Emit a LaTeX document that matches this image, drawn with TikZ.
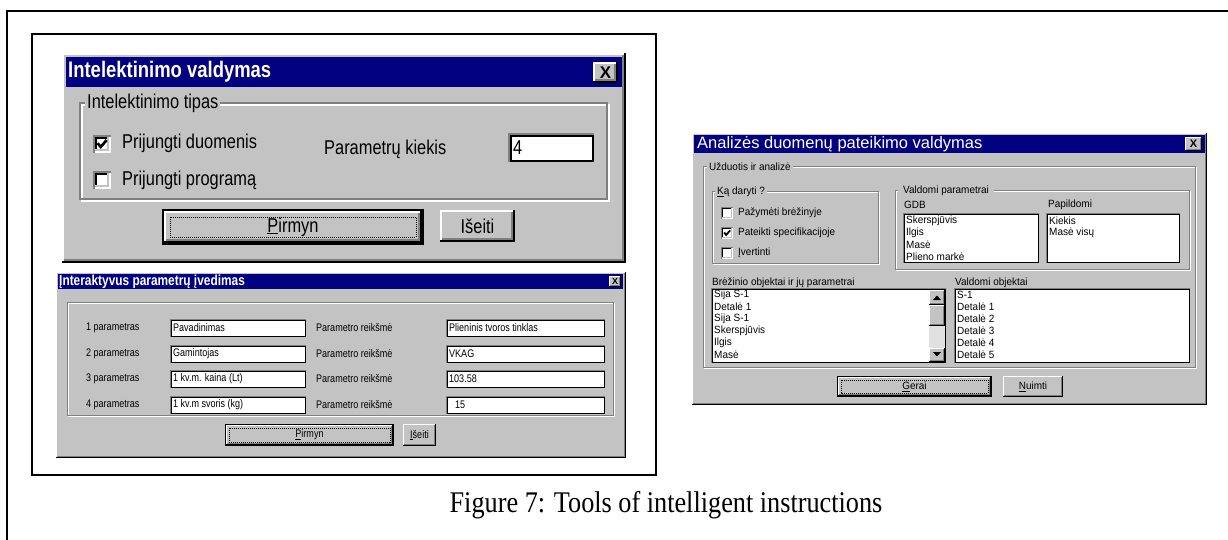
\documentclass[tikz,border=0pt]{standalone}
\usepackage{fontspec}
\setmainfont{Liberation Serif}
\newfontfamily\uiA{Liberation Sans}[FakeStretch=0.82]
\newfontfamily\uiB{Liberation Sans}[FakeStretch=0.95]
\newfontfamily\uiT{Liberation Sans}
\newfontfamily\capfont{Liberation Serif}[FakeStretch=0.875]

\definecolor{winface}{RGB}{195,195,195}
\definecolor{winshade}{RGB}{128,128,128}
\definecolor{wintitle}{RGB}{0,0,128}
\definecolor{wintrack}{RGB}{225,225,225}

\tikzset{
  txt/.style={inner sep=0pt, anchor=west},
  d1txt/.style={txt, font=\uiA\fontsize{20}{24}\selectfont},
  d2txt/.style={txt, font=\uiA\fontsize{11}{13}\selectfont},
  d3txt/.style={txt, font=\uiB\fontsize{10.5}{12}\selectfont},
  grplbl/.style={fill=winface, inner xsep=2pt, inner ysep=0pt, anchor=west},
  titletxt/.style={txt, text=white},
  closex/.style={inner sep=0pt, font=\uiT\bfseries},
}

% raised 3D panel (dialogs, buttons)
\newcommand\wraised[4]{%
  \fill[winface] (#1,#2) rectangle (#3,#4);
  \draw[white,line width=\wlw pt] (#1+\wlw/2,#4-\wlw) -- (#1+\wlw/2,#2+\wlw/2) -- (#3-\wlw,#2+\wlw/2);
  \draw[black,line width=\wlw pt] (#1,#4-\wlw/2) -- (#3-\wlw/2,#4-\wlw/2) -- (#3-\wlw/2,#2);
  \draw[winshade,line width=\wlw pt] (#1+\wlw,#4-1.5*\wlw) -- (#3-1.5*\wlw,#4-1.5*\wlw) -- (#3-1.5*\wlw,#2+\wlw);
}
% default push button with focus rectangle
\newcommand\wdefbtn[4]{%
  \fill[black] (#1,#2) rectangle (#3,#4);
  \wraised{#1+\wlw}{#2+\wlw}{#3-\wlw}{#4-\wlw}
  \draw[black,line width=0.8pt,dash pattern=on 1pt off 1pt] (#1+4*\wlw,#2+4*\wlw) rectangle (#3-4*\wlw,#4-4*\wlw);
}
% white edit field / list box
\newcommand\wfield[4]{%
  \fill[white] (#1,#2) rectangle (#3,#4);
  \draw[winshade,line width=\wlw pt] (#1+\wlw/2,#4) -- (#1+\wlw/2,#2+\wlw/2) -- (#3,#2+\wlw/2);
  \draw[black,line width=\wlw pt] (#1+1.5*\wlw,#2+1.5*\wlw) rectangle (#3-\wlw/2,#4-\wlw/2);
}
% etched group frame
\newcommand\wgroup[4]{%
  \draw[white,line width=\wlw pt] (#1+\wlw,#2+\wlw) rectangle (#3+\wlw,#4+\wlw);
  \draw[winshade,line width=\wlw pt] (#1,#2) rectangle (#3,#4);
}
% check box
\newcommand\wcheck[3]{%
  \fill[white] (#1,#2) rectangle (#1+#3,#2+#3);
  \draw[winshade,line width=\wlw pt] (#1+\wlw/2,#2+#3) -- (#1+\wlw/2,#2+\wlw/2) -- (#1+#3,#2+\wlw/2);
  \draw[black,line width=\wlw pt] (#1+1.5*\wlw,#2+#3-\wlw) -- (#1+1.5*\wlw,#2+1.5*\wlw) -- (#1+#3-\wlw,#2+1.5*\wlw);
  \draw[winface,line width=\wlw pt] (#1+\wlw,#2+#3-1.5*\wlw) -- (#1+#3-1.5*\wlw,#2+#3-1.5*\wlw) -- (#1+#3-1.5*\wlw,#2+\wlw);
}
\newcommand\wtick[3]{%
  \draw[black,line width={0.15*#3},line join=miter] (#1+0.26*#3,#2+0.46*#3) -- (#1+0.43*#3,#2+0.66*#3) -- (#1+0.76*#3,#2+0.28*#3);
}

\begin{document}
\begin{tikzpicture}[x=1pt,y=-1pt]
\useasboundingbox (0,0) rectangle (1228,540);
\fill[white] (0,0) rectangle (1228,540);

% page frame and frame of the left screenshots
\draw[line width=2pt] (7,540) -- (7,11) -- (1228,11);
\draw[line width=2pt] (32,34) rectangle (656,475);

% ---------- dialog: Intelektinimo valdymas ----------
\def\wlw{2}
\wraised{62}{53}{626}{263}
\fill[wintitle] (66,57) rectangle (622,87);
\node[titletxt, font=\uiA\bfseries\fontsize{22.5}{26}\selectfont] (d1title) at (68,72) {Intelektinimo valdymas};
\wraised{593}{62}{618}{83}
\node[closex, font=\uiT\bfseries\fontsize{17}{20}\selectfont] (d1close) at (605.5,72.5) {X};
\wgroup{80}{103}{607}{199}
\node[grplbl, font=\uiA\fontsize{20}{24}\selectfont] (d1grp) at (85,103) {Intelektinimo tipas};
\wcheck{93}{135}{18}
\wtick{93}{135}{18}
\node[d1txt] (d1c1) at (122,143) {Prijungti duomenis};
\wcheck{93}{171}{18}
\node[d1txt] (d1c2) at (122,180) {Prijungti programą};
\node[d1txt] (d1par) at (324,149) {Parametrų kiekis};
\wfield{508}{133}{594}{162}
\node[d1txt] (d1val) at (513,148) {4};
\wdefbtn{162}{209}{424}{245}
\node[d1txt, anchor=center] (d1ok) at (293,227) {\underline{P}irmyn};
\wraised{440}{210}{515}{242}
\node[d1txt, anchor=center] (d1exit) at (477.5,226) {Išeiti};

% ---------- dialog: Interaktyvus parametrų įvedimas ----------
\def\wlw{1}
\wraised{56}{272}{626}{458}
\fill[wintitle] (58,274) rectangle (623,289);
\node[titletxt, font=\uiA\bfseries\fontsize{14.5}{16}\selectfont] (d2title) at (59,281.5) {Įnteraktyvus parametrų įvedimas};
\wraised{609}{276}{621}{287}
\node[closex, font=\uiT\bfseries\fontsize{9}{10}\selectfont] (d2close) at (615,281.5) {X};
\wgroup{67}{302}{613}{415}

\node[d2txt] (d2l1) at (86,328) {1 parametras};
\wfield{170}{319}{306}{337}
\node[d2txt] (d2a1) at (173,328) {Pavadinimas};
\node[d2txt] (d2r1) at (316,328) {Parametro reikšmė};
\wfield{446}{319}{605}{337}
\node[d2txt] (d2b1) at (449,328) {Plieninis tvoros tinklas};

\node[d2txt] (d2l2) at (86,354) {2 parametras};
\wfield{170}{345}{306}{363}
\node[d2txt] (d2a2) at (173,354) {Gamintojas};
\node[d2txt] (d2r2) at (316,354) {Parametro reikšmė};
\wfield{446}{345}{605}{363}
\node[d2txt] (d2b2) at (449,354) {VKAG};

\node[d2txt] (d2l3) at (86,379) {3 parametras};
\wfield{170}{370}{306}{388}
\node[d2txt] (d2a3) at (173,379) {1 kv.m. kaina (Lt)};
\node[d2txt] (d2r3) at (316,379) {Parametro reikšmė};
\wfield{446}{370}{605}{388}
\node[d2txt] (d2b3) at (449,379) {103.58};

\node[d2txt] (d2l4) at (86,405) {4 parametras};
\wfield{170}{396}{306}{414}
\node[d2txt] (d2a4) at (173,405) {1 kv.m svoris (kg)};
\node[d2txt] (d2r4) at (316,405) {Parametro reikšmė};
\wfield{446}{396}{605}{414}
\node[d2txt] (d2b4) at (455,405) {15};

\wdefbtn{225}{424}{394}{446}
\node[d2txt, anchor=center] (d2ok) at (309.5,435) {\underline{P}irmyn};
\wraised{403}{424}{436}{446}
\node[d2txt, anchor=center] (d2exit) at (419.5,435) {\underline{I}šeiti};

% ---------- dialog: Analizės duomenų pateikimo valdymas ----------
\wraised{692}{133}{1207}{405}
\fill[wintitle] (694,135) rectangle (1205,153);
\node[titletxt, font=\uiT\fontsize{16.5}{18}\selectfont] (d3title) at (697,144) {Analizės duomenų pateikimo valdymas};
\wraised{1185}{137}{1202}{151}
\node[closex, font=\uiT\bfseries\fontsize{11}{12}\selectfont] (d3close) at (1193.5,144) {X};

\wgroup{703}{167}{1195}{367}
\node[grplbl, font=\uiB\fontsize{10.5}{12}\selectfont] (d3grp) at (707,167) {Užduotis ir analizė};

\wgroup{712}{192}{878}{263}
\node[grplbl, font=\uiB\fontsize{10.5}{12}\selectfont] (d3what) at (715,192) {\underline{K}ą daryti ?};
\wcheck{721}{207}{12}
\node[d3txt] (d3c1) at (738,213) {Pažymėti brėžinyje};
\wcheck{721}{227}{12}
\wtick{721}{227}{12}
\node[d3txt] (d3c2) at (738,233) {Pateikti specifikacijoje};
\wcheck{721}{247}{12}
\node[d3txt] (d3c3) at (738,253) {Įvertinti};

\wgroup{895}{191}{1189}{269}
\node[grplbl, inner xsep=5pt, font=\uiB\fontsize{10.5}{12}\selectfont] (d3par) at (898,191) {Valdomi parametrai};
\node[d3txt] (d3gdb) at (904,205) {GDB};
\wfield{903}{213}{1039}{263}
\node[d3txt] (d3g1) at (906,221) {Skerspjūvis};
\node[d3txt] (d3g2) at (906,233) {Ilgis};
\node[d3txt] (d3g3) at (906,245) {Masė};
\node[d3txt] (d3g4) at (906,257) {Plieno markė};
\node[d3txt] (d3pap) at (1048,205) {Papildomi};
\wfield{1046}{213}{1180}{263}
\node[d3txt] (d3p1) at (1049,221) {Kiekis};
\node[d3txt] (d3p2) at (1049,233) {Masė visų};

\node[d3txt] (d3obj) at (712,283) {Brėžinio objektai ir jų parametrai};
\wfield{711}{288}{946}{363}
\node[d3txt] (d3o1) at (714,295) {Sija S-1};
\node[d3txt] (d3o2) at (714,307) {Detalė 1};
\node[d3txt] (d3o3) at (714,319) {Sija S-1};
\node[d3txt] (d3o4) at (714,331) {Skerspjūvis};
\node[d3txt] (d3o5) at (714,343) {Ilgis};
\node[d3txt] (d3o6) at (714,355) {Masė};
% scroll bar
\fill[wintrack] (929,305) rectangle (945,348);
\wraised{929}{290}{945}{305}
\fill[black] (933,300) -- (941,300) -- (937,295.5) -- cycle;
\wraised{929}{305}{945}{326}
\wraised{929}{348}{945}{362}
\fill[black] (933,352) -- (941,352) -- (937,356.5) -- cycle;

\node[d3txt] (d3vo) at (955,283) {Valdomi objektai};
\wfield{954}{288}{1190}{363}
\node[d3txt] (d3v1) at (957,295) {S-1};
\node[d3txt] (d3v2) at (957,307) {Detalė 1};
\node[d3txt] (d3v3) at (957,319) {Detalė 2};
\node[d3txt] (d3v4) at (957,331) {Detalė 3};
\node[d3txt] (d3v5) at (957,343) {Detalė 4};
\node[d3txt] (d3v6) at (957,355) {Detalė 5};

\wdefbtn{837}{376}{992}{397}
\node[d3txt, anchor=center] (d3ok) at (914.5,386.5) {\underline{G}erai};
\wraised{1003}{376}{1063}{397}
\node[d3txt, anchor=center] (d3cancel) at (1033,386.5) {\underline{N}uimti};

% ---------- caption ----------
\node[font=\capfont\fontsize{30}{34}\selectfont, inner sep=0pt, anchor=base] (caption) at (666,512) {Figure 7: Tools of intelligent instructions};
\end{tikzpicture}
\end{document}
